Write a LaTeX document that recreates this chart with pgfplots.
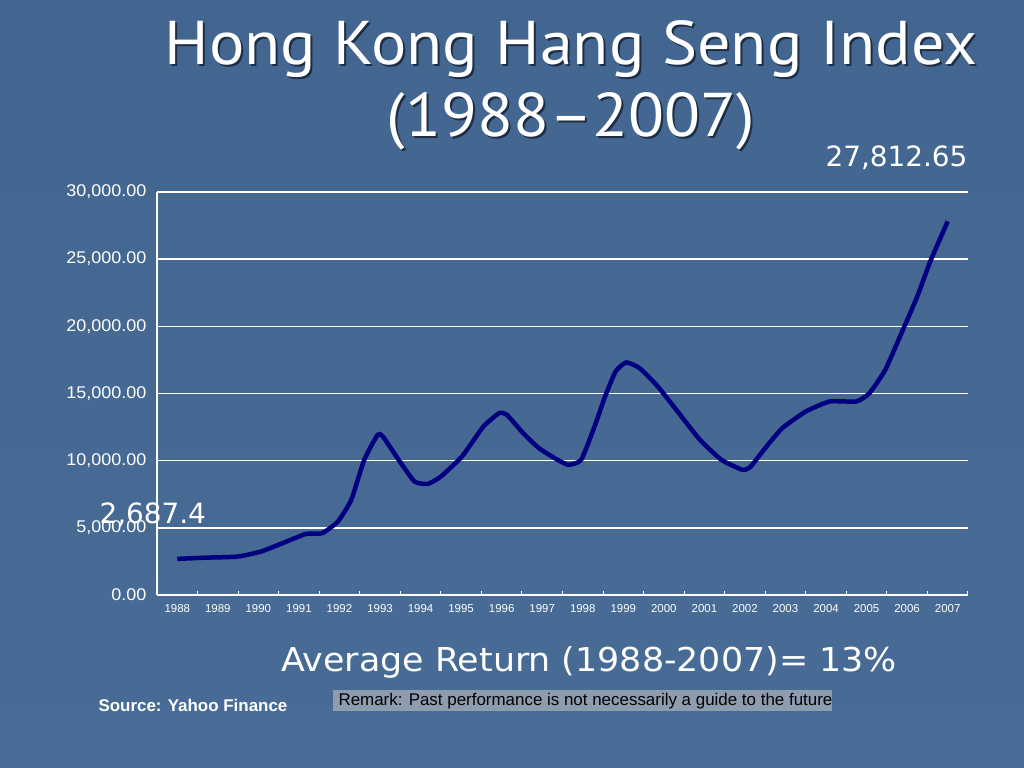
\documentclass[border=0pt]{standalone}
\usepackage{pgfplots}
\pgfplotsset{compat=1.18}
\usepackage{fontspec}
\setmainfont{Liberation Sans}
\newfontfamily\titlefont{PT Sans}
\newfontfamily\dvfont{DejaVu Sans}
\definecolor{bgtop}{RGB}{66,102,144}
\definecolor{bgmid}{RGB}{88,124,166}
\definecolor{bgbot}{RGB}{72,108,150}
\definecolor{navyline}{RGB}{0,0,128}
\definecolor{remarkbg}{RGB}{142,156,176}
\definecolor{shadowc}{RGB}{30,45,70}
\begin{document}
\begin{tikzpicture}[x=1bp,y=1bp]
\shade[top color=bgtop, middle color=bgmid, bottom color=bgbot] (0,0) rectangle (1024,768);
% title with shadow
\node[text=shadowc, font=\titlefont\fontsize{62}{66}\selectfont, anchor=base, xscale=1.07] at (573,701) {Hong Kong Hang Seng Index};
\node[text=white, font=\titlefont\fontsize{62}{66}\selectfont, anchor=base, xscale=1.07] at (571,703) {Hong Kong Hang Seng Index};
\node[text=shadowc, font=\titlefont\fontsize{62}{66}\selectfont, anchor=base, xscale=1.07] at (573,629) {(1988–2007)};
\node[text=white, font=\titlefont\fontsize{62}{66}\selectfont, anchor=base, xscale=1.07] at (571,631) {(1988–2007)};
\begin{axis}[
  at={(157bp,173bp)}, anchor=south west,
  scale only axis, width=811bp, height=403bp,
  xmin=1987.5, xmax=2007.5, ymin=0, ymax=30000,
  scaled y ticks=false, scaled x ticks=false,
  /pgf/number format/assume math mode=true,
  axis x line*=bottom, axis y line*=left,
  axis line style={white, line width=1.5pt, -},
  xtick={1988,...,2007},
  minor xtick={1988.5,1989.5,...,2007.5},
  major tick length=0pt, minor tick length=4bp,
  tick align=inside,
  minor tick style={white, line width=1pt},
  xticklabel style={font=\fontsize{11.5}{12}\selectfont, text=white, yshift=-6bp},
  xticklabel={\pgfmathprintnumber[1000 sep=]{\tick}},
  ytick={0,5000,10000,15000,20000,25000,30000},
  yticklabels={0.00,{5,000.00},{10,000.00},{15,000.00},{20,000.00},{25,000.00},{30,000.00}},
  yticklabel style={font=\fontsize{17}{18}\selectfont, text=white, xshift=-7bp, xscale=1.06},
  ymajorgrids, major grid style={white, line width=1.5pt},
  clip=false,
]
\addplot[navyline, line width=4.5bp, smooth, tension=0.3] coordinates {
(1988.00,2687) (1988.70,2780) (1989.48,2856) (1990.06,3229) (1990.59,3850)
(1991.17,4545) (1991.57,4595) (1991.96,5464) (1992.29,7079) (1992.61,10060)
(1992.94,11923) (1993.07,11800) (1993.46,10060) (1993.85,8445) (1994.18,8271)
(1994.50,8817) (1995.02,10308) (1995.55,12543) (1995.94,13537) (1996.13,13413)
(1996.53,12047) (1996.92,10929) (1997.31,10184) (1997.64,9687) (1997.96,10060)
(1998.29,12543) (1998.55,14778) (1998.81,16642) (1999.07,17312) (1999.40,16890)
(1999.85,15524) (2000.37,13537) (2000.89,11550) (2001.42,10060) (2001.94,9314)
(2002.14,9562) (2002.53,11053) (2002.92,12420) (2003.50,13661) (2004.09,14406)
(2004.75,14406) (2005.07,15030) (2005.46,16766) (2005.86,19500) (2006.25,22230)
(2006.57,24840) (2007.00,27812.65)
};
\end{axis}
\node[text=white, font=\dvfont\fontsize{28}{30}\selectfont, anchor=base east] at (971,601) {27,812.65};
\node[text=white, font=\dvfont\fontsize{28}{30}\selectfont, anchor=base west] at (96,244) {2,687.4};
\node[text=white, font=\dvfont\fontsize{33}{35}\selectfont, anchor=base, xscale=1.06] at (589,96) {Average Return (1988-2007)= 13\%};
\node[text=white, font=\bfseries\fontsize{17}{18}\selectfont, anchor=base west] at (95,56) {Source: Yahoo Finance};
\fill[remarkbg] (333,57) rectangle (832,78);
\node[text=black, font=\fontsize{17}{18}\selectfont, anchor=base west] at (335,62) {Remark: Past performance is not necessarily a guide to the future};
\end{tikzpicture}
\end{document}
